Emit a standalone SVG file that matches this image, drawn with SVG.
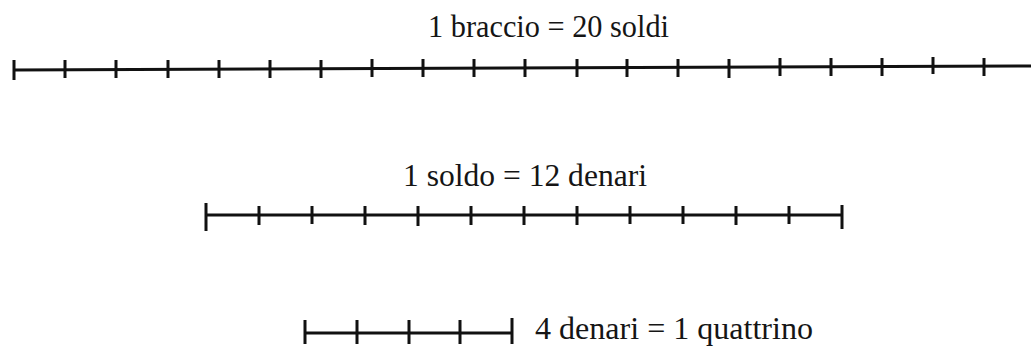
<svg xmlns="http://www.w3.org/2000/svg" width="1031" height="349" viewBox="0 0 1031 349">
<style>
.bar{stroke:#111111;stroke-width:3;fill:none;stroke-linecap:butt}
.tick{stroke:#111111;stroke-width:3;fill:none}
.lbl{font-family:"Liberation Serif","Times New Roman",serif;font-size:31px;fill:#151515}
</style>
<rect width="1031" height="349" fill="#ffffff"/>
<g id="braccio">
<text class="lbl" x="428" y="37" textLength="241" lengthAdjust="spacingAndGlyphs">1 braccio = 20 soldi</text>
<line class="bar" x1="14" y1="70" x2="1031" y2="66"/>
<path class="tick" d="M14 60V80M65 60V78M116 60V78M168 60V78M219 60V78M270 60V78M321 60V78M372 59V77M423 59V77M474 59V77M525 59V77M577 59V77M627 59V77M678 59V77M729 59V78M780 58V76M831 58V76M882 58V76M933 57V74M984 58V76"/>
</g>
<g id="soldo">
<text class="lbl" x="403" y="186" textLength="244" lengthAdjust="spacingAndGlyphs">1 soldo = 12 denari</text>
<line class="bar" x1="206" y1="215" x2="842" y2="215"/>
<path class="tick" d="M206 203V231M259 206V225M312 206V224M365 206V225M418 206V226M471 206V225M524 206V225M577 206V225M630 206V224M683 206V224M736 206V225M789 206V224M842 205V229"/>
</g>
<g id="quattrino">
<line class="bar" x1="305" y1="333" x2="512" y2="333"/>
<path class="tick" d="M305 320V344M357 320V344M409 320V344M460 320V344M512 318V344"/>
<text class="lbl" x="535" y="339" textLength="278" lengthAdjust="spacingAndGlyphs">4 denari = 1 quattrino</text>
</g>
</svg>
